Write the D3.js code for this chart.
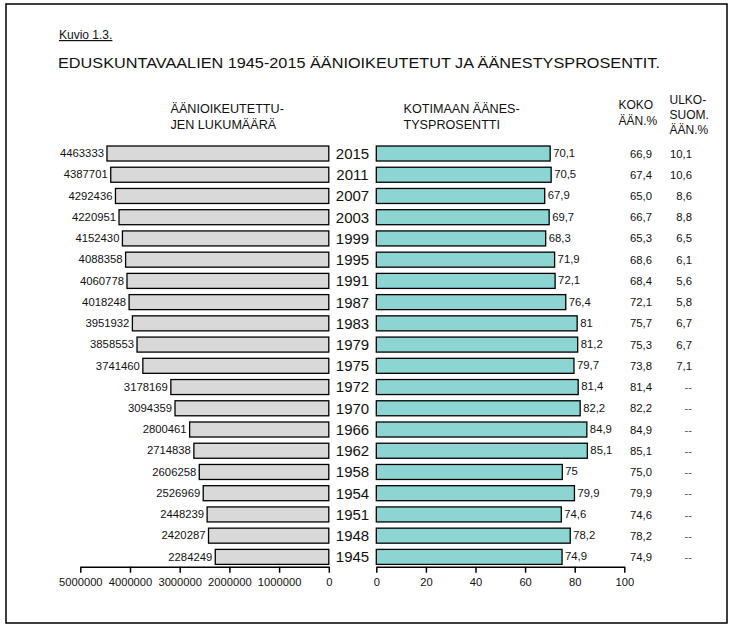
<!DOCTYPE html>
<html>
<head>
<meta charset="utf-8">
<script src="https://cdn.jsdelivr.net/npm/d3@7"></script>
<style>
  html, body { margin: 0; padding: 0; background: #fff; }
  svg text { font-family: Arial, "Liberation Sans", sans-serif; fill: #111; }
</style>
</head>
<body>
<svg id="chart" width="735" height="634"></svg>
<script>
// ---- data ----
const years = [2015, 2011, 2007, 2003, 1999, 1995, 1991, 1987, 1983, 1979, 1975, 1972, 1970, 1966, 1962, 1958, 1954, 1951, 1948, 1945];
const eligibleVoters = [4463333, 4387701, 4292436, 4220951, 4152430, 4088358, 4060778, 4018248, 3951932, 3858553, 3741460, 3178169, 3094359, 2800461, 2714838, 2606258, 2526969, 2448239, 2420287, 2284249];
const domesticTurnout = [70.1, 70.5, 67.9, 69.7, 68.3, 71.9, 72.1, 76.4, 81, 81.2, 79.7, 81.4, 82.2, 84.9, 85.1, 75, 79.9, 74.6, 78.2, 74.9];
const totalTurnout = [66.9, 67.4, 65.0, 66.7, 65.3, 68.6, 68.4, 72.1, 75.7, 75.3, 73.8, 81.4, 82.2, 84.9, 85.1, 75.0, 79.9, 74.6, 78.2, 74.9];
const abroadTurnout = [10.1, 10.6, 8.6, 8.8, 6.5, 6.1, 5.6, 5.8, 6.7, 6.7, 7.1, null, null, null, null, null, null, null, null, null];
const leftTicks = [5000000, 4000000, 3000000, 2000000, 1000000, 0];
const rightTicks = [0, 20, 40, 60, 80, 100];

const rows = years.map((y, i) => ({
  year: y, eligible: eligibleVoters[i], dom: domesticTurnout[i],
  tot: totalTurnout[i], abr: abroadTurnout[i]
}));

const svg = d3.select("#chart");

// frame
svg.append("rect").attr("x", 6).attr("y", 4).attr("width", 721).attr("height", 619)
  .attr("fill", "none").attr("stroke", "#000").attr("stroke-width", 1.5);

// titles
svg.append("text").attr("x", 59).attr("y", 39).attr("font-size", 12)
  .attr("text-decoration", "underline").text("Kuvio 1.3.");
svg.append("text").attr("x", 58).attr("y", 68.3).attr("font-size", 15.5)
  .attr("textLength", 602).attr("lengthAdjust", "spacingAndGlyphs")
  .text("EDUSKUNTAVAALIEN 1945-2015 ÄÄNIOIKEUTETUT JA ÄÄNESTYSPROSENTIT.");

// headers
const hdr = [
  {x: 170.5, y: 112.5, t: "ÄÄNIOIKEUTETTU-", s: 12.6},
  {x: 170.5, y: 128.5, t: "JEN LUKUMÄÄRÄ", s: 12.6},
  {x: 403.5, y: 112.5, t: "KOTIMAAN ÄÄNES-", s: 12.6},
  {x: 403.5, y: 128.5, t: "TYSPROSENTTI", s: 12.6},
  {x: 618.5, y: 109, t: "KOKO", s: 12},
  {x: 618.5, y: 125, t: "ÄÄN.%", s: 12},
  {x: 669.5, y: 104, t: "ULKO-", s: 12},
  {x: 669.5, y: 119, t: "SUOM.", s: 12},
  {x: 669.5, y: 134, t: "ÄÄN.%", s: 12}
];
svg.selectAll("text.hdr").data(hdr).enter().append("text").attr("class", "hdr")
  .attr("x", d => d.x).attr("y", d => d.y).attr("font-size", d => d.s).text(d => d.t);

// scales
const y = d3.scaleBand().domain(years).range([146, 564.4]).paddingInner(0.293).paddingOuter(0);
const xL = d3.scaleLinear().domain([5000000, 0]).range([80.3, 328.8]);
const xR = d3.scaleLinear().domain([0, 100]).range([376.3, 624.3]);

// left bars
svg.selectAll("rect.lb").data(rows).enter().append("rect").attr("class", "lb")
  .attr("x", d => xL(d.eligible)).attr("y", d => y(d.year))
  .attr("width", d => xL(0) - xL(d.eligible)).attr("height", y.bandwidth())
  .attr("fill", "#d9d9d9").attr("stroke", "#000").attr("stroke-width", 1.3);
svg.selectAll("text.ll").data(rows).enter().append("text").attr("class", "ll")
  .attr("x", d => xL(d.eligible) - 3).attr("y", d => y(d.year) + y.bandwidth() / 2)
  .attr("dy", "0.33em").attr("text-anchor", "end").attr("font-size", 11.3)
  .text(d => d.eligible);

// year labels
svg.selectAll("text.yr").data(rows).enter().append("text").attr("class", "yr")
  .attr("x", 352.5).attr("y", d => y(d.year) + y.bandwidth() / 2)
  .attr("dy", "0.36em").attr("text-anchor", "middle").attr("font-size", 15)
  .text(d => d.year);

// right bars
svg.selectAll("rect.rb").data(rows).enter().append("rect").attr("class", "rb")
  .attr("x", xR(0)).attr("y", d => y(d.year))
  .attr("width", d => xR(d.dom) - xR(0)).attr("height", y.bandwidth())
  .attr("fill", "#8dd5d2").attr("stroke", "#000").attr("stroke-width", 1.3);
svg.selectAll("text.rl").data(rows).enter().append("text").attr("class", "rl")
  .attr("x", d => xR(d.dom) + 3).attr("y", d => y(d.year) + y.bandwidth() / 2)
  .attr("dy", "0.3em").attr("font-size", 11.3)
  .text(d => String(d.dom).replace(".", ","));

// extra columns
const f1 = v => v.toFixed(1).replace(".", ",");
svg.selectAll("text.tot").data(rows).enter().append("text").attr("class", "tot")
  .attr("x", 652).attr("y", d => y(d.year) + y.bandwidth() / 2)
  .attr("dy", "0.36em").attr("text-anchor", "end").attr("font-size", 11.3)
  .text(d => f1(d.tot));
svg.selectAll("text.abr").data(rows).enter().append("text").attr("class", "abr")
  .attr("x", 692).attr("y", d => y(d.year) + y.bandwidth() / 2)
  .attr("dy", "0.36em").attr("text-anchor", "end").attr("font-size", 11.3)
  .style("fill", d => d.abr == null ? "#555" : "#111")
  .text(d => d.abr == null ? "--" : f1(d.abr));

// axes
const axY = 566.7;
const gL = svg.append("g").attr("transform", `translate(0,${axY})`)
  .call(d3.axisBottom(xL).tickValues(leftTicks).tickFormat(d3.format("d")).tickSize(6).tickSizeOuter(0).tickPadding(5));
const gR = svg.append("g").attr("transform", `translate(0,${axY})`)
  .call(d3.axisBottom(xR).tickValues(rightTicks).tickFormat(d3.format("d")).tickSize(6).tickSizeOuter(0).tickPadding(5));
[gL, gR].forEach(g => {
  g.selectAll("path.domain").attr("stroke", "#000").attr("stroke-width", 1.5);
  g.selectAll(".tick line").attr("stroke", "#000").attr("stroke-width", 1.5);
  g.selectAll(".tick text").attr("font-size", 11.2).attr("font-family", "Arial, 'Liberation Sans', sans-serif").style("fill", "#111");
});
</script>
</body>
</html>
